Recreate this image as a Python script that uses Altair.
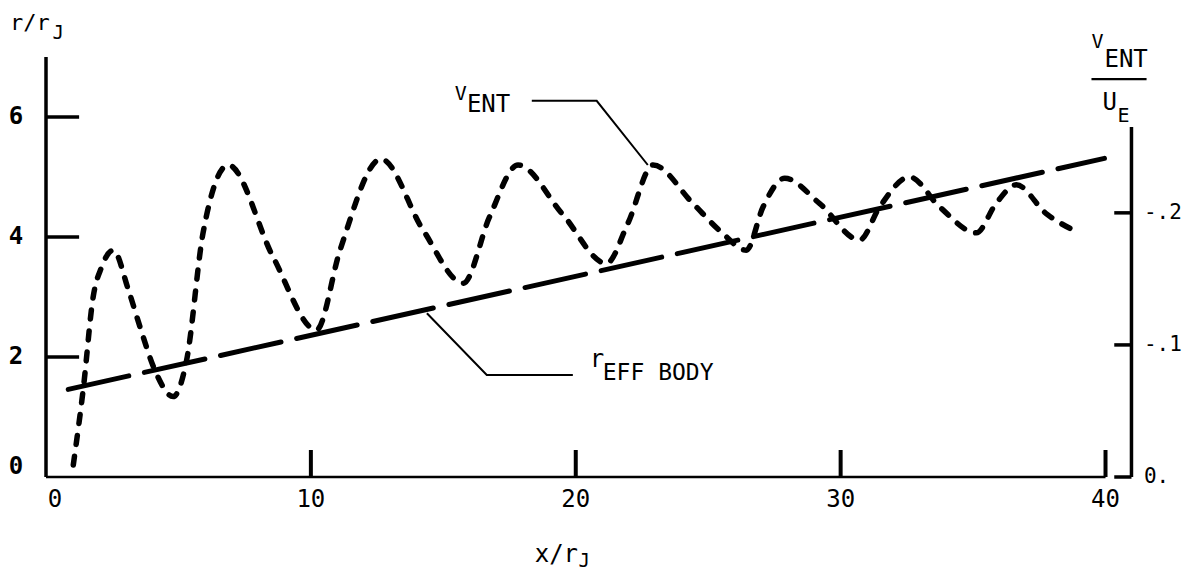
import altair as alt
import pandas as pd

# ---------------- data ----------------
# V_ENT curve (x/rJ, r/rJ)
vent_x = [1.03, 1.41, 1.78, 2.1, 2.54, 3.11, 3.55, 4.11, 4.8, 5.31, 5.93, 6.88, 8.57,
          10.21, 11.1, 12.65, 14.23, 15.75, 16.75, 17.82, 19.5, 21.16, 21.97,
          22.92, 24.4, 25.5, 26.44, 27.07, 27.89, 29.2, 30.72, 31.47, 32.6, 33.74,
          35.12, 35.87, 36.63, 37.76, 38.9]
vent_y = [0.2, 1.48, 3.0, 3.5, 3.78, 3.12, 2.5, 1.78, 1.34, 1.95, 4.07, 5.2, 3.67,
          2.45, 3.78, 5.3, 4.12, 3.23, 4.34, 5.2, 4.38, 3.56, 4.23,
          5.2, 4.57, 4.08, 3.78, 4.5, 4.98, 4.56, 3.95, 4.5, 5.0, 4.5,
          4.07, 4.56, 4.87, 4.39, 4.09]

# effective body radius (straight line)
body_x = [0.84, 39.96]
body_y = [1.46, 5.31]

# axes
x_ticks = [10, 20, 30, 40]
x_labels = ["0", "10", "20", "30", "40"]
x_label_vals = [0, 10, 20, 30, 40]
y_ticks = [2, 4, 6]
y_labels = ["0", "2", "4", "6"]
y_label_vals = [0, 2, 4, 6]
r_ticks = [-0.2, -0.1, 0.0]
r_labels = ["-.2", "-.1", "0."]

# leader lines for annotations
vent_leader_x = [18.34, 20.79, 22.72]
vent_leader_y = [6.27, 6.27, 5.2]
body_leader_x = [14.38, 16.64, 19.89]
body_leader_y = [2.73, 1.7, 1.7]

FONT = "DejaVu Sans Mono"
XMAX = 41.0
YMAX = 7.0
RMAX = -0.318

xs = alt.Scale(domain=[0, XMAX], nice=False, zero=False)
ys = alt.Scale(domain=[0, YMAX], nice=False, zero=False)
yr = alt.Scale(domain=[0, RMAX], nice=False, zero=False)


def rules(df, yscale):
    return alt.Chart(df).mark_rule(color="black", strokeCap="butt").encode(
        x=alt.X("x:Q", scale=xs, axis=None),
        x2="x2:Q",
        y=alt.Y("y:Q", scale=yscale, axis=None),
        y2="y2:Q",
        strokeWidth=alt.StrokeWidth("w:Q", scale=None, legend=None),
    )


def texts(df, yscale, align="left", baseline="alphabetic", weight="normal", dx=0, dy=0):
    return alt.Chart(df).mark_text(
        align=align, baseline=baseline, font=FONT, color="black",
        fontWeight=weight, dx=dx, dy=dy
    ).encode(
        x=alt.X("x:Q", scale=xs, axis=None),
        y=alt.Y("y:Q", scale=yscale, axis=None),
        text="t:N",
        size=alt.Size("s:Q", scale=None, legend=None),
    )


# ---------------- curves ----------------
vent_df = pd.DataFrame({"x": vent_x, "y": vent_y})
body_df = pd.DataFrame({"x": body_x, "y": body_y})

vent_line = alt.Chart(vent_df).mark_line(
    color="black", strokeWidth=5.5, strokeDash=[9, 12], strokeCap="round",
    interpolate="monotone"
).encode(x=alt.X("x:Q", scale=xs, axis=None), y=alt.Y("y:Q", scale=ys, axis=None))

body_line = alt.Chart(body_df).mark_line(
    color="black", strokeWidth=5, strokeDash=[62, 16], strokeCap="round"
).encode(x=alt.X("x:Q", scale=xs, axis=None), y=alt.Y("y:Q", scale=ys, axis=None))

lead_df = pd.DataFrame({
    "x": vent_leader_x + body_leader_x,
    "y": vent_leader_y + body_leader_y,
    "g": ["v"] * 3 + ["b"] * 3,
    "o": list(range(3)) * 2,
})
leaders = alt.Chart(lead_df).mark_line(color="black", strokeWidth=2).encode(
    x=alt.X("x:Q", scale=xs, axis=None),
    y=alt.Y("y:Q", scale=ys, axis=None),
    detail="g:N",
    order="o:Q",
)

# ---------------- axes (left scale) ----------------
ax_rows = [
    dict(x=0, x2=0, y=0, y2=YMAX, w=3.5),          # left axis
    dict(x=0, x2=40.0, y=0, y2=0, w=2.5),          # bottom axis
]
for t in x_ticks:
    ax_rows.append(dict(x=t, x2=t, y=0, y2=0.45, w=4))
for t in y_ticks:
    ax_rows.append(dict(x=0, x2=1.25, y=t, y2=t, w=3.5))
left_axes = rules(pd.DataFrame(ax_rows), ys)

# ---------------- right axis (right scale) ----------------
RX = 40.98
r_rows = [dict(x=RX, x2=RX, y=0, y2=-0.265, w=3.5)]
for t in r_ticks:
    r_rows.append(dict(x=RX - 0.65, x2=RX, y=t, y2=t, w=3.5))
right_axes = rules(pd.DataFrame(r_rows), yr)

# ---------------- labels ----------------
ylab = texts(pd.DataFrame({"x": [-1.13] * 3, "y": y_label_vals[1:], "t": y_labels[1:], "s": [24] * 3}),
             ys, align="center", baseline="middle", weight="bold")
ylab0 = texts(pd.DataFrame({"x": [-1.13], "y": [0], "t": [y_labels[0]], "s": [24]}),
              ys, align="center", baseline="middle", weight="bold", dy=-10)
xlab = texts(pd.DataFrame({"x": x_label_vals[1:], "y": [-0.38] * 4, "t": x_labels[1:], "s": [24] * 4}),
             ys, align="center", baseline="middle")
xlab0 = texts(pd.DataFrame({"x": [0], "y": [-0.38], "t": [x_labels[0]], "s": [24]}),
              ys, align="center", baseline="middle", dx=9)
rlab = texts(pd.DataFrame({"x": [41.45] * 3, "y": r_ticks, "t": r_labels, "s": [21] * 3}),
             yr, align="left", baseline="middle")

ann = pd.DataFrame([
    dict(x=-1.36, y=7.45, t="r/r", s=22),
    dict(x=0.25, y=7.3, t="J", s=19),
    dict(x=15.43, y=6.28, t="V", s=20),
    dict(x=15.89, y=6.08, t="ENT", s=24),
    dict(x=20.53, y=1.83, t="r", s=24),
    dict(x=21.02, y=1.62, t="EFF BODY", s=23),
    dict(x=39.47, y=7.15, t="V", s=20),
    dict(x=39.96, y=6.83, t="ENT", s=24),
    dict(x=39.89, y=6.12, t="U", s=24),
    dict(x=40.45, y=5.92, t="E", s=20),
    dict(x=18.45, y=-1.41, t="x/r", s=24),
    dict(x=20.1, y=-1.5, t="J", s=19),
])
annot = texts(ann, ys, align="left", baseline="alphabetic")

frac = rules(pd.DataFrame([dict(x=39.47, x2=41.55, y=6.63, y2=6.63, w=2.2)]), ys)

chart = alt.layer(
    body_line, vent_line, leaders, left_axes, ylab, ylab0, xlab, xlab0,
    annot, frac, right_axes, rlab
).resolve_scale(y="independent").properties(
    width=1086, height=420,
    autosize=alt.AutoSizeParams(type="none"),
    padding={"left": 38, "top": 49, "right": 50, "bottom": 95},
    background="white",
).configure_view(stroke=None)

chart.save("out.html", embed_options={"renderer": "svg", "actions": False})
